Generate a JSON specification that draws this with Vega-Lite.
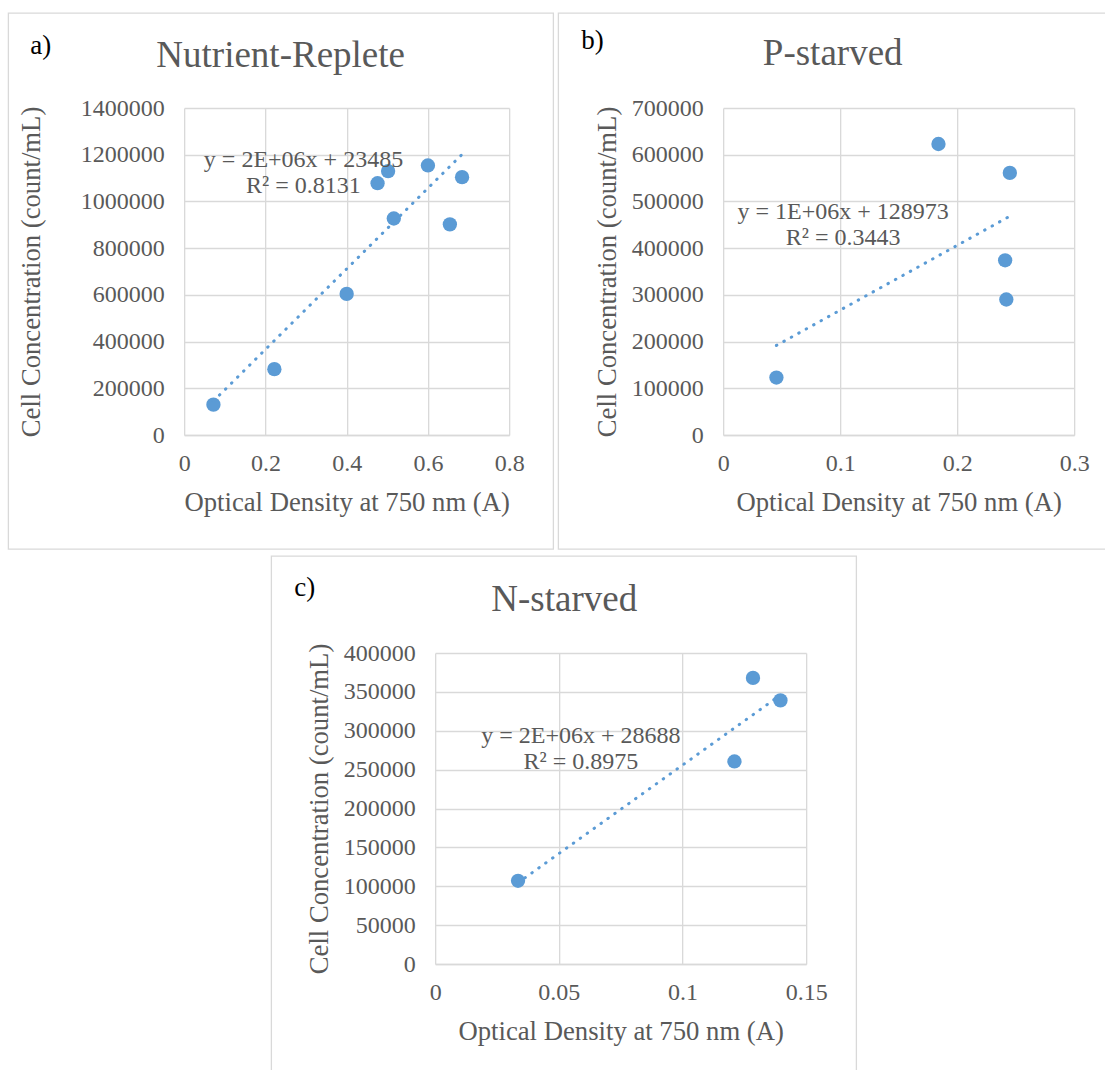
{
  "$schema": "https://vega.github.io/schema/vega-lite/v6.json",
  "background": "white",
  "padding": {"left": 7, "top": 12, "right": 0, "bottom": 0},
  "spacing": 5,
  "center": true,
  "vconcat": [
    {
      "spacing": 3,
      "hconcat": [
        {
          "width": 545,
          "height": 536,
          "data": {"values": [
            {"od": 0.072, "cell": 130000},
            {"od": 0.222, "cell": 282000},
            {"od": 0.400, "cell": 604000},
            {"od": 0.476, "cell": 1078000},
            {"od": 0.502, "cell": 1130000},
            {"od": 0.516, "cell": 927000},
            {"od": 0.600, "cell": 1154000},
            {"od": 0.654, "cell": 902000},
            {"od": 0.684, "cell": 1104000}
          ]},
          "layer": [
            {"mark": {"type": "point", "filled": true, "size": 205, "opacity": 1, "color": "#5b9bd5"},
             "encoding": {
               "x": {"field": "od", "type": "quantitative",
                 "scale": {"domain": [0, 0.8], "range": [176, 501], "nice": false, "zero": false},
                 "axis": {"orient": "top", "values": [0, 0.2, 0.4, 0.6, 0.8], "format": ".2~f", "offset": -422, "title": "Optical Density at 750 nm (A)"}},
               "y": {"field": "cell", "type": "quantitative",
                 "scale": {"domain": [0, 1400000], "range": [422, 95], "nice": false},
                 "axis": {"values": [0, 200000, 400000, 600000, 800000, 1000000, 1200000, 1400000], "format": "d", "offset": -176, "title": "Cell Concentration (count/mL)", "titlePadding": 35}}
             }},
            {"transform": [{"regression": "cell", "on": "od"}],
             "mark": {"type": "line", "color": "#5b9bd5", "strokeWidth": 3, "strokeDash": [0.5, 8], "strokeCap": "round"},
             "encoding": {"x": {"field": "od", "type": "quantitative"}, "y": {"field": "cell", "type": "quantitative"}}},
            {"data": {"values": [{"eq": "y = 2E+06x + 23485\nR² = 0.8131"}]},
             "mark": {"type": "text", "lineBreak": "\n", "align": "center", "baseline": "middle", "fontSize": 24, "lineHeight": 26, "color": "#595959"},
             "encoding": {"x": {"datum": 0.2937, "type": "quantitative"}, "y": {"datum": 1179500, "type": "quantitative"}, "text": {"field": "eq", "type": "nominal"}}},
            {"data": {"values": [{"label": "Nutrient-Replete"}]},
             "mark": {"type": "text", "align": "center", "baseline": "middle", "fontSize": 37, "color": "#595959"},
             "encoding": {"x": {"datum": 0.2375, "type": "quantitative"}, "y": {"datum": 1622600, "type": "quantitative"}, "text": {"field": "label", "type": "nominal"}}},
            {"data": {"values": [{"label": "a)"}]},
             "mark": {"type": "text", "align": "left", "baseline": "middle", "fontSize": 27, "color": "#000000"},
             "encoding": {"x": {"datum": -0.3790, "type": "quantitative"}, "y": {"datum": 1665400, "type": "quantitative"}, "text": {"field": "label", "type": "nominal"}}}
          ]
        },
        {
          "width": 561,
          "height": 536,
          "data": {"values": [
            {"od": 0.0455, "cell": 123000},
            {"od": 0.184, "cell": 623000},
            {"od": 0.245, "cell": 561000},
            {"od": 0.241, "cell": 374000},
            {"od": 0.242, "cell": 290000}
          ]},
          "layer": [
            {"mark": {"type": "point", "filled": true, "size": 205, "opacity": 1, "color": "#5b9bd5"},
             "encoding": {
               "x": {"field": "od", "type": "quantitative",
                 "scale": {"domain": [0, 0.3], "range": [165, 516], "nice": false, "zero": false},
                 "axis": {"orient": "top", "values": [0, 0.1, 0.2, 0.3], "format": ".2~f", "offset": -422, "title": "Optical Density at 750 nm (A)"}},
               "y": {"field": "cell", "type": "quantitative",
                 "scale": {"domain": [0, 700000], "range": [422, 95], "nice": false},
                 "axis": {"values": [0, 100000, 200000, 300000, 400000, 500000, 600000, 700000], "format": "d", "offset": -165, "title": "Cell Concentration (count/mL)", "titlePadding": 10}}
             }},
            {"transform": [{"regression": "cell", "on": "od"}],
             "mark": {"type": "line", "color": "#5b9bd5", "strokeWidth": 3, "strokeDash": [0.5, 8], "strokeCap": "round"},
             "encoding": {"x": {"field": "od", "type": "quantitative"}, "y": {"field": "cell", "type": "quantitative"}}},
            {"data": {"values": [{"eq": "y = 1E+06x + 128973\nR² = 0.3443"}]},
             "mark": {"type": "text", "lineBreak": "\n", "align": "center", "baseline": "middle", "fontSize": 24, "lineHeight": 26, "color": "#595959"},
             "encoding": {"x": {"datum": 0.1025, "type": "quantitative"}, "y": {"datum": 477600, "type": "quantitative"}, "text": {"field": "eq", "type": "nominal"}}},
            {"data": {"values": [{"label": "P-starved"}]},
             "mark": {"type": "text", "align": "center", "baseline": "middle", "fontSize": 37, "color": "#595959"},
             "encoding": {"x": {"datum": 0.0936, "type": "quantitative"}, "y": {"datum": 815600, "type": "quantitative"}, "text": {"field": "label", "type": "nominal"}}},
            {"data": {"values": [{"label": "b)"}]},
             "mark": {"type": "text", "align": "left", "baseline": "middle", "fontSize": 27, "color": "#000000"},
             "encoding": {"x": {"datum": -0.1214, "type": "quantitative"}, "y": {"datum": 843400, "type": "quantitative"}, "text": {"field": "label", "type": "nominal"}}}
          ]
        }
      ]
    },
    {
      "width": 585,
      "height": 540,
      "data": {"values": [
        {"od": 0.0335, "cell": 107000},
        {"od": 0.1285, "cell": 368000},
        {"od": 0.1396, "cell": 339000},
        {"od": 0.121, "cell": 260500}
      ]},
      "layer": [
        {"mark": {"type": "point", "filled": true, "size": 205, "opacity": 1, "color": "#5b9bd5"},
         "encoding": {
           "x": {"field": "od", "type": "quantitative",
             "scale": {"domain": [0, 0.15], "range": [164, 535], "nice": false, "zero": false},
             "axis": {"orient": "top", "values": [0, 0.05, 0.1, 0.15], "format": ".2~f", "offset": -408, "title": "Optical Density at 750 nm (A)"}},
           "y": {"field": "cell", "type": "quantitative",
             "scale": {"domain": [0, 400000], "range": [408, 97], "nice": false},
             "axis": {"values": [0, 50000, 100000, 150000, 200000, 250000, 300000, 350000, 400000], "format": "d", "offset": -164, "title": "Cell Concentration (count/mL)", "titlePadding": 10}}
         }},
        {"transform": [{"regression": "cell", "on": "od"}],
         "mark": {"type": "line", "color": "#5b9bd5", "strokeWidth": 3, "strokeDash": [0.5, 8], "strokeCap": "round"},
         "encoding": {"x": {"field": "od", "type": "quantitative"}, "y": {"field": "cell", "type": "quantitative"}}},
        {"data": {"values": [{"eq": "y = 2E+06x + 28688\nR² = 0.8975"}]},
         "mark": {"type": "text", "lineBreak": "\n", "align": "center", "baseline": "middle", "fontSize": 24, "lineHeight": 26, "color": "#595959"},
         "encoding": {"x": {"datum": 0.0589, "type": "quantitative"}, "y": {"datum": 292700, "type": "quantitative"}, "text": {"field": "eq", "type": "nominal"}}},
        {"data": {"values": [{"label": "N-starved"}]},
         "mark": {"type": "text", "align": "center", "baseline": "middle", "fontSize": 37, "color": "#595959"},
         "encoding": {"x": {"datum": 0.05216, "type": "quantitative"}, "y": {"datum": 468170, "type": "quantitative"}, "text": {"field": "label", "type": "nominal"}}},
        {"data": {"values": [{"label": "c)"}]},
         "mark": {"type": "text", "align": "left", "baseline": "middle", "fontSize": 27, "color": "#000000"},
         "encoding": {"x": {"datum": -0.0570, "type": "quantitative"}, "y": {"datum": 483600, "type": "quantitative"}, "text": {"field": "label", "type": "nominal"}}}
      ]
    }
  ],
  "config": {
    "font": "Liberation Serif",
    "view": {"stroke": "#d9d9d9", "strokeWidth": 1.3},
    "text": {"font": "Liberation Serif"},
    "axis": {
      "labelFont": "Liberation Serif",
      "titleFont": "Liberation Serif",
      "labelColor": "#595959",
      "titleColor": "#595959",
      "labelFontSize": 24,
      "titleFontSize": 26.7,
      "titleFontWeight": "normal",
      "gridColor": "#d9d9d9",
      "gridWidth": 1.3,
      "ticks": false,
      "labelFlush": false,
      "labelOverlap": false,
      "domainColor": "#d9d9d9",
      "domainWidth": 1.3
    },
    "axisY": {"domain": false, "labelPadding": 20},
    "axisX": {"labelPadding": -16, "labelBaseline": "top", "titleY": 67, "titleBaseline": "middle"}
  }
}
